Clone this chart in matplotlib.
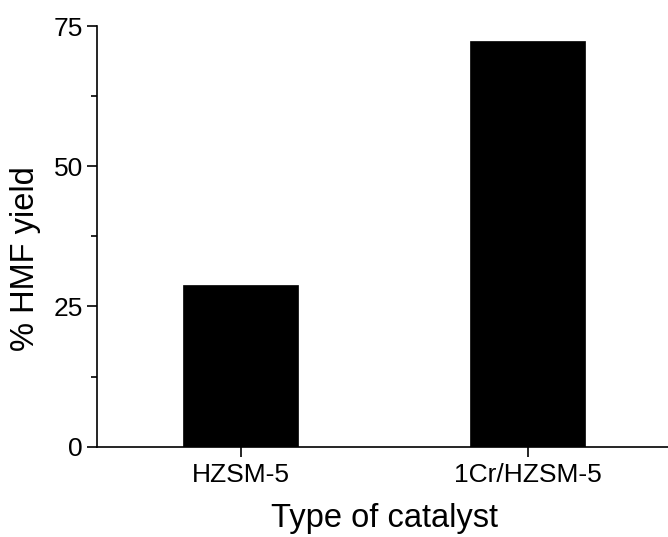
import matplotlib
matplotlib.use("Agg")
import matplotlib.pyplot as plt
from matplotlib.ticker import MultipleLocator

plt.rcParams['font.family'] = ['Liberation Sans', 'DejaVu Sans']

categories = ["HZSM-5", "1Cr/HZSM-5"]
hmf_yield = [28.8, 72.3]
yticks = [0, 25, 50, 75]

fig = plt.figure(figsize=(6.68, 5.37), dpi=100)
ax = fig.add_axes([97/668, 1 - 446.7/537, 1 - 97/668 + 0.005, (446.7 - 26)/537])

x = [1, 2]
ax.bar(x, hmf_yield, width=0.4, color='black', edgecolor='black', linewidth=0.5)

ax.set_xlim(0.5, 2.5)
ax.set_ylim(0, 75)
ax.set_xticks(x)
ax.set_xticklabels(categories)
ax.set_yticks(yticks)
ax.yaxis.set_minor_locator(MultipleLocator(12.5))

for s in ['top', 'right']:
    ax.spines[s].set_visible(False)
for s in ['left', 'bottom']:
    ax.spines[s].set_linewidth(1.2)

ax.tick_params(axis='both', which='major', direction='out', length=7, width=1.2,
               labelsize=19, pad=3)
ax.tick_params(axis='x', which='major', pad=5)
ax.tick_params(axis='y', which='minor', direction='out', length=4, width=1.2)

ax.set_xlabel("Type of catalyst", fontsize=23.5)
ax.set_ylabel("% HMF yield", fontsize=23.5)
ax.yaxis.set_label_coords(-0.098, 0.447)
ax.xaxis.set_label_coords(0.5, -0.135)

fig.savefig("out.png", dpi=100)
